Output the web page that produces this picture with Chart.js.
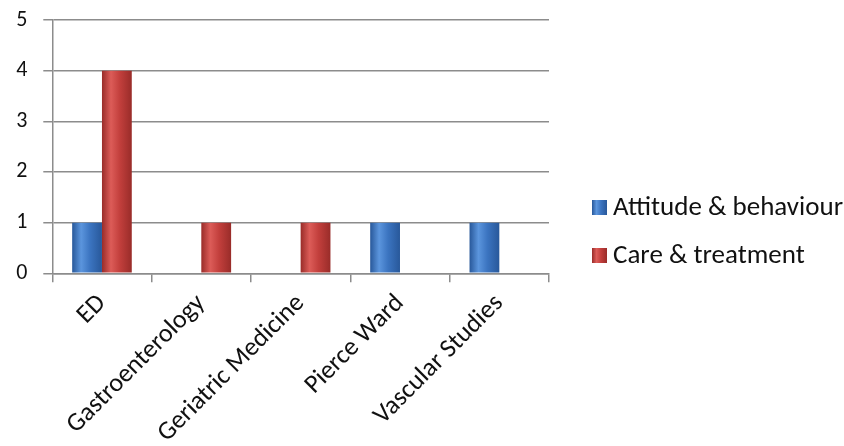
<!DOCTYPE html>
<html>
<head>
<meta charset="utf-8">
<script src="https://cdn.jsdelivr.net/npm/chart.js@4/dist/chart.umd.min.js"></script>
<style>
  html, body { margin: 0; padding: 0; background: #fff; }
  #wrap { width: 844px; height: 446px; position: relative; }
</style>
</head>
<body>
<div id="wrap"><canvas id="chart" width="844" height="446"></canvas></div>
<script>
/* global Chart */

// ── data ─────────────────────────────────────
const CATEGORIES = ['ED', 'Gastroenterology', 'Geriatric Medicine', 'Pierce Ward', 'Vascular Studies'];
const ATTITUDE   = [1, 0, 0, 1, 1];
const CARE       = [4, 1, 1, 0, 0];
const SERIES     = ['Attitude & behaviour', 'Care & treatment'];
const Y_MAX      = 5;

// ── look ─────────────────────────────────────
const FONT = 'Carlito, Calibri, Lato, "Liberation Sans", sans-serif';
const COLORS = [
  { base: '#3b74c0', light: '#5b95dd', dark: '#28589a' },
  { base: '#c23f3c', light: '#dc5c58', dark: '#992c29' }
];
const GRID = '#8c8c8c';

function barGradient(ctx, x0, x1, c) {
  const g = ctx.createLinearGradient(x0, 0, x1, 0);
  g.addColorStop(0, c.dark);
  g.addColorStop(0.3, c.light);
  g.addColorStop(0.6, c.base);
  g.addColorStop(1, c.dark);
  return g;
}

// shade each bar left-to-right, like the glossy office bars
const shadeBars = {
  id: 'shadeBars',
  beforeDatasetsDraw(chart) {
    const ctx = chart.ctx;
    chart.data.datasets.forEach((ds, i) => {
      chart.getDatasetMeta(i).data.forEach(el => {
        const x0 = el.x - el.width / 2;
        el.options.backgroundColor = barGradient(ctx, x0, x0 + el.width, COLORS[i]);
      });
    });
  }
};

// legend to the right of the plot
const sideLegend = {
  id: 'sideLegend',
  afterDraw(chart) {
    const ctx = chart.ctx;
    const rows = [207.5, 255.5];
    ctx.save();
    ctx.font = '27px ' + FONT;
    ctx.textBaseline = 'middle';
    SERIES.forEach((name, i) => {
      const y = rows[i];
      ctx.fillStyle = barGradient(ctx, 592, 607, COLORS[i]);
      ctx.fillRect(592, y - 7.5, 15, 15);
      ctx.fillStyle = '#111';
      ctx.fillText(name, 613, y + 1);
    });
    ctx.restore();
  }
};

new Chart(document.getElementById('chart'), {
  type: 'bar',
  data: {
    labels: CATEGORIES,
    datasets: [
      { label: SERIES[0], data: ATTITUDE, backgroundColor: () => COLORS[0].base },
      { label: SERIES[1], data: CARE,     backgroundColor: () => COLORS[1].base }
    ]
  },
  options: {
    responsive: false,
    animation: false,
    layout: { padding: { left: 0, right: 295, top: 20, bottom: 0 } },
    datasets: {
      bar: { categoryPercentage: 0.6, barPercentage: 1.0, borderWidth: 0 }
    },
    plugins: {
      legend: { display: false },
      tooltip: { enabled: false }
    },
    scales: {
      x: {
        offset: true,
        grid: { display: true, offset: true, drawOnChartArea: false, color: GRID, lineWidth: 1.5, tickLength: 9 },
        border: { color: GRID, width: 1.5 },
        ticks: {
          color: '#111',
          font: { family: FONT, size: 26 },
          minRotation: 45, maxRotation: 45,
          padding: 6
        },
        afterFit(scale) {
          scale.height = 172.7;
          scale.paddingLeft = 0;
          scale.paddingRight = 0;
        }
      },
      y: {
        min: 0, max: Y_MAX,
        ticks: { stepSize: 1, color: '#111', font: { family: FONT, size: 22 }, padding: 16 },
        grid: { color: GRID, lineWidth: 1.5, tickLength: 9 },
        border: { color: GRID, width: 1.5 },
        afterFit(scale) {
          scale.width = 52.3;
          scale.paddingTop = 0;
          scale.paddingBottom = 0;
        }
      }
    }
  },
  plugins: [shadeBars, sideLegend]
});
</script>
</body>
</html>
